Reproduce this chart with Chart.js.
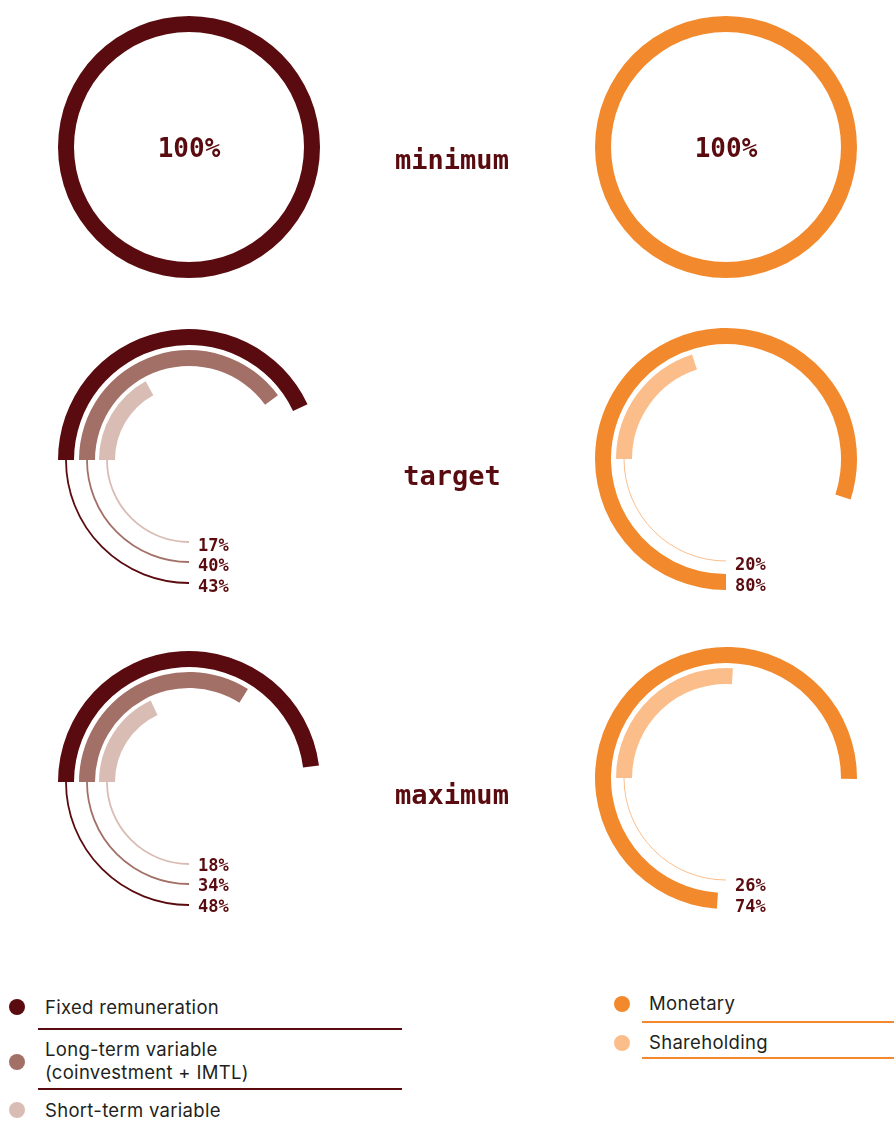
<!DOCTYPE html>
<html><head><meta charset="utf-8">
<script src="https://cdn.jsdelivr.net/npm/chart.js@4.4.1/dist/chart.umd.min.js"></script>
<style>
html,body{margin:0;padding:0;background:#fff;}
body{width:894px;height:1126px;overflow:hidden;position:relative;font-family:Inter,"Open Sans",sans-serif;}
canvas.ring{position:absolute;}
.row-label{position:absolute;width:240px;text-align:center;font-family:"DejaVu Sans Mono",monospace;font-weight:bold;font-size:27px;color:#5a0b0f;line-height:30px;height:30px;}
.dot{position:absolute;width:16px;height:16px;border-radius:50%;}
.ltxt{position:absolute;font-size:18.5px;letter-spacing:0.3px;line-height:23px;color:#231f20;white-space:pre;}
.rule{position:absolute;height:2px;}
</style></head><body>
<script>
// ---- data ----
const rowLabels = ['minimum', 'target', 'maximum'];
const leftSeriesNames = ['Fixed remuneration', 'Long-term variable\n(coinvestment + IMTL)', 'Short-term variable'];
const rightSeriesNames = ['Monetary', 'Shareholding'];
const fixedValues = [100, 43, 48];
const longTermValues = [0, 40, 34];
const shortTermValues = [0, 17, 18];
const monetaryValues = [100, 80, 74];
const shareholdingValues = [0, 20, 26];

// ---- styles ----
const leftColors = ['#5a0b0f', '#a37068', '#d9bdb5'];
const rightColors = ['#f28a2d', '#fbbe8b'];
const valueTextColor = '#5a0b0f';

const colX = [189, 726];
const rowYLeft = [147, 460, 782];
const rowYRight = [147, 459, 778];
const rowLabelTop = [145, 461, 780];
const labelDyLeft = [0, 3, 0.5];
const labelDyRight = [0, 3, 5];
const monetaryRotation = [180, 180, 184];
const CANVAS = 300, PAD = 19;

const ringAnnot = {
  id: 'ringAnnot',
  afterDatasetsDraw(chart, args, o) {
    const ctx = chart.ctx;
    chart.data.datasets.forEach((ds, i) => {
      if (ds.spacer) return;
      const arc = chart.getDatasetMeta(i).data[0];
      const rm = (arc.innerRadius + arc.outerRadius) / 2;
      ctx.save();
      if (ds.leader) {
        ctx.beginPath();
        ctx.arc(arc.x, arc.y, rm, Math.PI / 2, arc.startAngle);
        ctx.strokeStyle = ds.leaderColor;
        ctx.lineWidth = ds.leaderWidth;
        ctx.stroke();
      }
      ctx.fillStyle = valueTextColor;
      if (o.center) {
        ctx.font = 'bold 26px "DejaVu Sans Mono", monospace';
        ctx.textAlign = 'center';
        ctx.textBaseline = 'alphabetic';
        ctx.fillText(ds.data[0] + '%', arc.x, arc.y + 10);
      } else {
        ctx.font = 'bold 17px "DejaVu Sans Mono", monospace';
        ctx.textAlign = 'left';
        ctx.textBaseline = 'alphabetic';
        ctx.fillText(ds.data[0] + '%', arc.x + 9, arc.y + rm + 6 + o.dy);
      }
      ctx.restore();
    });
  }
};

function makeRing(cx, cy, rings, cutout, center, dy) {
  const cv = document.createElement('canvas');
  cv.className = 'ring';
  cv.width = CANVAS; cv.height = CANVAS;
  cv.style.left = (cx - CANVAS / 2) + 'px';
  cv.style.top = (cy - CANVAS / 2) + 'px';
  document.body.appendChild(cv);
  const datasets = [];
  rings.forEach((r, k) => {
    if (k > 0) datasets.push({ spacer: true, data: [100], backgroundColor: ['rgba(0,0,0,0)'], weight: r.gap });
    datasets.push({
      label: r.name, data: [r.value, 100 - r.value],
      backgroundColor: [r.color, 'rgba(0,0,0,0)'],
      weight: 16, rotation: r.rotation,
      leader: r.leader, leaderColor: r.color, leaderWidth: r.leaderWidth
    });
  });
  new Chart(cv, {
    type: 'doughnut',
    data: { labels: ['value', 'rest'], datasets },
    options: {
      responsive: false, animation: false, events: [],
      cutout: cutout,
      layout: { padding: PAD },
      elements: { arc: { borderWidth: 0, hoverOffset: 0 } },
      plugins: { legend: { display: false }, tooltip: { enabled: false }, ringAnnot: { center, dy } }
    },
    plugins: [ringAnnot]
  });
}

const leftValueSets = [fixedValues, longTermValues, shortTermValues];
const rightValueSets = [monetaryValues, shareholdingValues];

rowLabels.forEach((lbl, r) => {
  // left: remuneration mix
  const lrings = [];
  leftValueSets.forEach((vals, s) => {
    if (vals[r] > 0) lrings.push({ name: leftSeriesNames[s], value: vals[r], color: leftColors[s], rotation: 270, leader: true, leaderWidth: 1.8, gap: s === 1 ? 5 : 4 });
  });
  const lCenter = lrings.length === 1 && lrings[0].value === 100;
  if (lCenter) lrings[0].leader = false;
  makeRing(colX[0], rowYLeft[r], lrings, lCenter ? 115 : 74, lCenter, labelDyLeft[r]);

  // right: monetary vs shareholding
  const rrings = [];
  rightValueSets.forEach((vals, s) => {
    if (vals[r] > 0) rrings.push({ name: rightSeriesNames[s], value: vals[r], color: rightColors[s], rotation: s === 0 ? monetaryRotation[r] : 270, leader: s === 1, leaderWidth: 1, gap: 5 });
  });
  const rCenter = rrings.length === 1 && rrings[0].value === 100;
  makeRing(colX[1], rowYRight[r], rrings, rCenter ? 115 : 94, rCenter, labelDyRight[r]);

  const d = document.createElement('div');
  d.className = 'row-label';
  d.textContent = lbl;
  d.style.left = (452 - 120) + 'px';
  d.style.top = rowLabelTop[r] + 'px';
  document.body.appendChild(d);
});

// ---- legends ----
function el(cls, css, text) {
  const d = document.createElement('div');
  d.className = cls;
  Object.assign(d.style, css);
  if (text !== undefined) d.textContent = text;
  document.body.appendChild(d);
}
const leftDotY = [1007, 1062, 1110];
const leftTextTop = [996, 1038, 1099];
const leftRuleTop = [1028, 1088];
leftSeriesNames.forEach((n, i) => {
  el('dot', { left: '9px', top: (leftDotY[i] - 8) + 'px', background: leftColors[i] });
  el('ltxt', { left: '45px', top: leftTextTop[i] + 'px' }, n);
});
leftRuleTop.forEach(t => el('rule', { left: '38px', width: '364px', top: t + 'px', background: leftColors[0] }));

const rightDotY = [1004, 1043];
const rightTextTop = [992, 1031];
const rightRuleTop = [1021, 1057];
rightSeriesNames.forEach((n, i) => {
  el('dot', { left: '614px', top: (rightDotY[i] - 8) + 'px', background: rightColors[i] });
  el('ltxt', { left: '649px', top: rightTextTop[i] + 'px' }, n);
  el('rule', { left: '642px', width: '252px', top: rightRuleTop[i] + 'px', background: rightColors[0] });
});
</script>
</body></html>
